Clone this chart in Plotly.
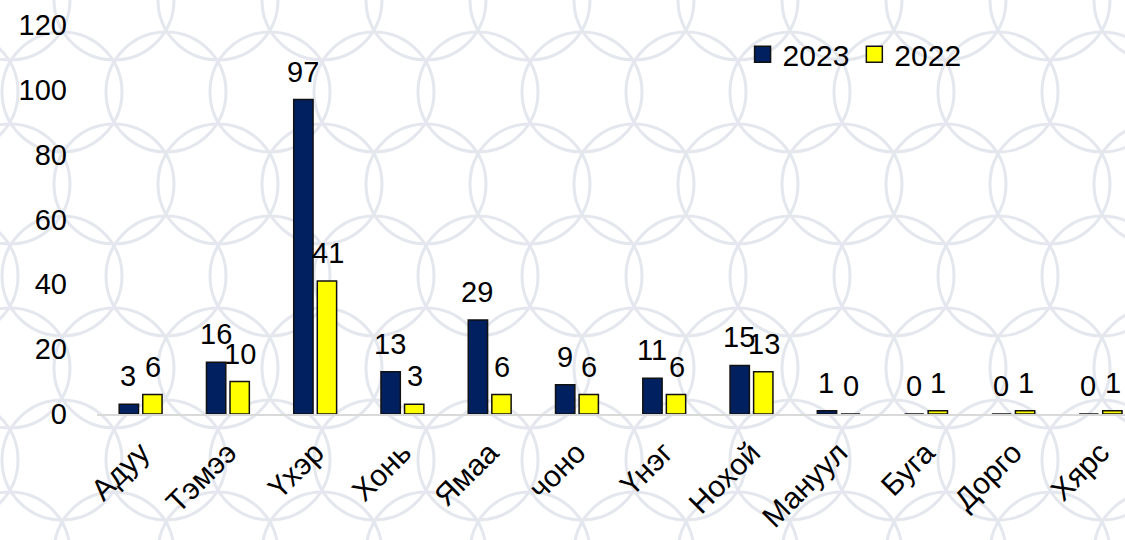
import plotly.graph_objects as go

categories = ["Адуу", "Тэмээ", "Үхэр", "Хонь", "Ямаа", "чоно", "Үнэг", "Нохой", "Мануул", "Буга", "Дорго", "Хярс"]
values_2023 = [3, 16, 97, 13, 29, 9, 11, 15, 1, 0, 0, 0]
values_2022 = [6, 10, 41, 3, 6, 6, 6, 13, 0, 1, 1, 1]
series_names = ["2023", "2022"]
y_ticks = [0, 20, 40, 60, 80, 100, 120]

FONT = "Liberation Sans, Arial, sans-serif"
NAVY = "#002060"
YELLOW = "#FFFF00"

W, H = 1125, 540
ML, MR, MT, MB = 97, 0, 25, 126
PW = W - ML - MR
PH = H - MT - MB

fig = go.Figure()
for name, vals, col in [(series_names[0], values_2023, NAVY), (series_names[1], values_2022, YELLOW)]:
    fig.add_trace(go.Bar(
        x=categories, y=vals, name=name, showlegend=False,
        marker=dict(color=col, line=dict(color="#111111", width=1.5)),
        cliponaxis=False,
    ))
# legend entries with larger square swatches
for name, col in [(series_names[0], NAVY), (series_names[1], YELLOW)]:
    fig.add_trace(go.Scatter(
        x=[None], y=[None], mode="markers", name=name,
        marker=dict(symbol="square", size=17, color=col, line=dict(color="#111111", width=1.5)),
    ))

# data labels above bars
slot_px = 12.4
for vals, sh in [(values_2023, -slot_px), (values_2022, slot_px)]:
    for c, v in zip(categories, vals):
        fig.add_annotation(x=c, y=v, text=str(v), showarrow=False,
                           xref="x", yref="y", yanchor="bottom",
                           xshift=sh, yshift=10,
                           font=dict(family=FONT, size=29, color="#000000"))

# decorative background pattern (interlocking circles)
def px2paper(px, py):
    return (px - ML) / PW, (H - MB - py) / PH

shapes = []
R = 60
for j in range(-1, 8):
    for i in range(-1, 13):
        cx = i * 104 + (52 if j % 2 else 0) + 10
        cy = j * 92 + 0
        x0, y1 = px2paper(cx - R, cy - R)
        x1, y0 = px2paper(cx + R, cy + R)
        shapes.append(dict(type="circle", xref="paper", yref="paper",
                           x0=x0, x1=x1, y0=y0, y1=y1, layer="below",
                           line=dict(color="#e4e7ee", width=3)))

fig.update_layout(
    width=W, height=H,
    margin=dict(l=ML, r=MR, t=MT, b=MB),
    paper_bgcolor="white", plot_bgcolor="rgba(0,0,0,0)",
    barmode="group", bargap=0.46, bargroupgap=0.18,
    font=dict(family=FONT, size=29, color="#000000"),
    showlegend=True,
    legend=dict(orientation="h", x=0.628, y=0.925, xanchor="left", yanchor="middle",
                bgcolor="rgba(0,0,0,0)", font=dict(family=FONT, size=30),
                itemwidth=30, traceorder="normal", tracegroupgap=0),
    shapes=shapes,
)
fig.update_xaxes(range=[-0.5, (W - ML) / (PW / 11.78) - 0.5], tickangle=-45,
                 showgrid=False, showline=True, linecolor="#d9d9d9", linewidth=2,
                 ticks="", tickfont=dict(family=FONT, size=30), ticklabelstandoff=7)
fig.update_yaxes(range=[0, 120], tickvals=y_ticks, showgrid=False, zeroline=False,
                 showline=False, ticks="", tickfont=dict(family=FONT, size=29),
                 ticklabelstandoff=29)

fig.write_html("out.html", config={"displayModeBar": False},
               post_script="document.body.style.margin='0';")
